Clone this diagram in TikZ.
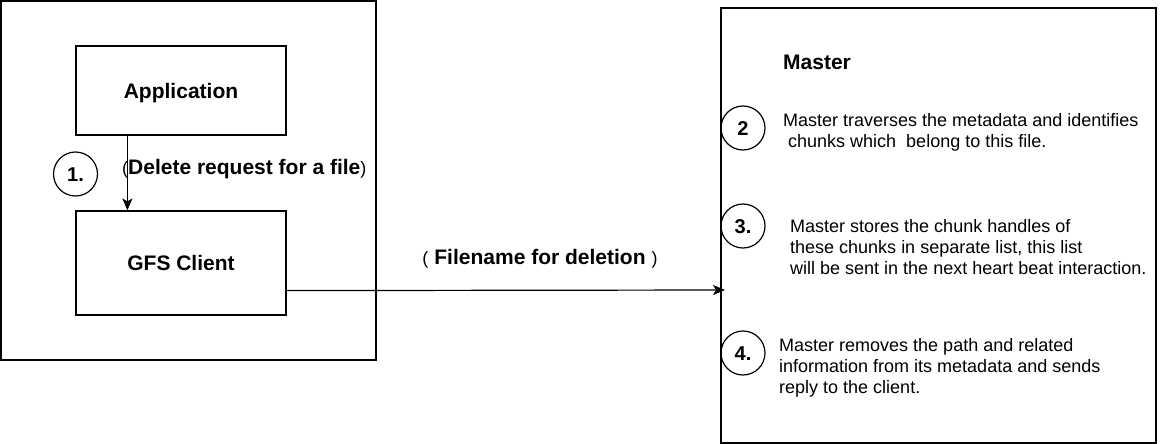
\documentclass[tikz,border=0pt]{standalone}
\usepackage{fontspec}
\setmainfont{Liberation Sans}
\usetikzlibrary{arrows.meta,calc}
\begin{document}
\begin{tikzpicture}[x=1pt,y=-1pt,
  box/.style={draw,line width=1.2pt,inner sep=0pt},
  numc/.style={draw,circle,line width=1.2pt,minimum size=44pt,inner sep=0pt,text height=14.5pt,text depth=0pt,font=\fontsize{20}{24}\selectfont\bfseries},
  body/.style={anchor=west,align=left,inner sep=0pt,font=\fontsize{18}{21}\selectfont},
  blab/.style={inner sep=0pt,text height=15pt,text depth=0pt,font=\fontsize{21}{25}\selectfont\bfseries},
  arr/.style={line width=1.2pt,-{Stealth[length=12pt,width=10pt,inset=3pt]}}]
\useasboundingbox (0,0) rectangle (1172,444);
\fill[white] (0,0) rectangle (1172,444);
% left container
\node[box,minimum width=375pt,minimum height=359pt] (left) at (188.5,180.5) {};
\node[box,minimum width=210pt,minimum height=89pt,blab] (app) at (181,90.5) {Application};
\node[box,minimum width=210pt,minimum height=104pt,blab] (gfs) at (181,263) {GFS Client};
\node[numc] (c1) at (75.5,174) {1.};
\node[inner sep=0pt,anchor=west,text height=15pt,text depth=0pt] (dreq) at (122,166.5) {{\fontsize{18}{21}\selectfont(}{\fontsize{21}{25}\selectfont\bfseries Delete request for a file}{\fontsize{18}{21}\selectfont)}};
\draw[arr] ($(app.south west)+(52,0)$) -- ($(gfs.north west)+(52,0)$);
% master
\node[box,minimum width=435pt,minimum height=435pt] (master) at (938.5,225.5) {};
\node[blab,anchor=west] (mtitle) at (783,62) {Master};
\node[numc] (c2) at (743,128) {2};
\node[numc] (c3) at (743,226) {3.};
\node[numc] (c4) at (743,353) {4.};
\node[body] (t2) at (783,132) {Master traverses the metadata and identifies\\\ chunks which\ \ belong to this file.};
\node[body] (t3) at (790,247.5) {Master stores the chunk handles of\\these chunks in separate list, this list\\will be sent in the next heart beat interaction.};
\node[body] (t4) at (779,367.5) {Master removes the path and related\\information from its metadata and sends\\reply to the client.};
% connector
\coordinate (tip) at (725,290);
\draw[arr] ($(gfs.south east)+(0,-25)$) -- (tip);
\node[inner sep=0pt,text height=15pt,text depth=0pt] (fname) at (540,257) {{\fontsize{18}{21}\selectfont(}\hspace{6pt}{\fontsize{21}{25}\selectfont\bfseries Filename for deletion}\hspace{6pt}{\fontsize{18}{21}\selectfont)}};
\end{tikzpicture}
\end{document}
